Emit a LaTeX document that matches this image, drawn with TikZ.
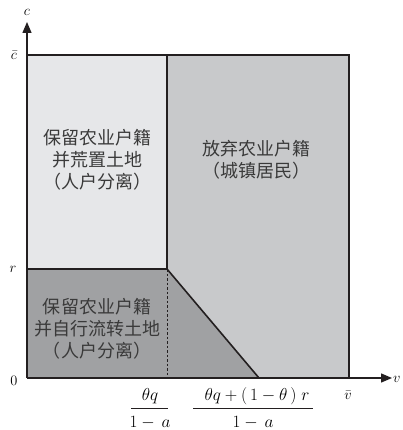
\documentclass[tikz,border=0pt]{standalone}
\usepackage{fontspec}
\newfontfamily\cjk{Noto Sans CJK SC}
\usetikzlibrary{arrows.meta}
\definecolor{lightfill}{HTML}{E6E7E9}
\definecolor{midfill}{HTML}{C8C9CB}
\definecolor{darkfill}{HTML}{A0A1A3}
\definecolor{edge}{HTML}{231F20}
\definecolor{txt}{HTML}{3A3A3A}
\tikzset{
  region/.style={draw=edge, line width=1.6pt},
  axis/.style={draw=edge, line width=1.4pt, -{Triangle[length=11pt,width=9pt]}},
  zonetext/.style={text=txt, font=\cjk\fontsize{18}{22}\selectfont, align=center, inner sep=0pt},
  axlabel/.style={font=\fontsize{15}{18}\selectfont, inner sep=0pt},
  fracpart/.style={font=\fontsize{16}{18}\selectfont, inner sep=0pt}
}
\begin{document}
\begin{tikzpicture}[x=1pt,y=-1pt]
\useasboundingbox (0,0) rectangle (402,430);
% coordinates
\coordinate (O) at (27,378);
\coordinate (TL) at (27,55);
\coordinate (TM) at (167,55);
\coordinate (TR) at (349,55);
\coordinate (BR) at (349,378);
\coordinate (RL) at (27,269);
\coordinate (RM) at (167,269);
\coordinate (BM) at (167,378);
\coordinate (BD) at (259,378);
\coordinate (YT) at (27,22);
\coordinate (XT) at (392,378);
% fills
\fill[lightfill] (TL) rectangle (RM);
\fill[midfill] (TM) -- (TR) -- (BR) -- (BD) -- (RM) -- cycle;
\fill[darkfill] (RL) -- (RM) -- (BD) -- (O) -- cycle;
% edges
\draw[region] (TL) -- (TR) -- (BR);
\draw[region] (TM) -- (RM);
\draw[region] (RL) -- (RM) -- (BD);
\draw[edge, line width=0.7pt, dash pattern=on 2.5pt off 2pt] (RM) -- (BM);
% axes
\draw[axis] (O) -- (YT);
\draw[axis] (O) -- (XT);
% axis labels
\node[axlabel] (lc) at (27,12) {$c$};
\node[axlabel] (lcbar) at (14,55) {$\bar c$};
\node[axlabel] (lr) at (13,269) {$r$};
\node[axlabel] (l0) at (14,381) {$0$};
\node[axlabel, anchor=west] (lv) at (393,379) {$v$};
\node[axlabel] (lvbar) at (348,395) {$\bar v$};
% fractions
\node[fracpart] (n1) at (150,396) {$\theta q$};
\node[fracpart] (d1) at (150,423) {$1-\,a$};
\draw[edge, line width=0.8pt] (131,408) -- (168,408);
\node[fracpart] (n2) at (257,396) {$\theta q+(\,1-\theta\,)\;r$};
\node[fracpart] (d2) at (253,423) {$1-\,a$};
\draw[edge, line width=0.8pt] (193,408) -- (313,408);
% zone texts
\node[zonetext] (z1) at (97,160) {保留农业户籍\\并荒置土地\\（人户分离）};
\node[zonetext] (z2) at (256,160) {放弃农业户籍\\（城镇居民）};
\node[zonetext] (z3) at (97,329) {保留农业户籍\\并自行流转土地\\（人户分离）};
\end{tikzpicture}
\end{document}
